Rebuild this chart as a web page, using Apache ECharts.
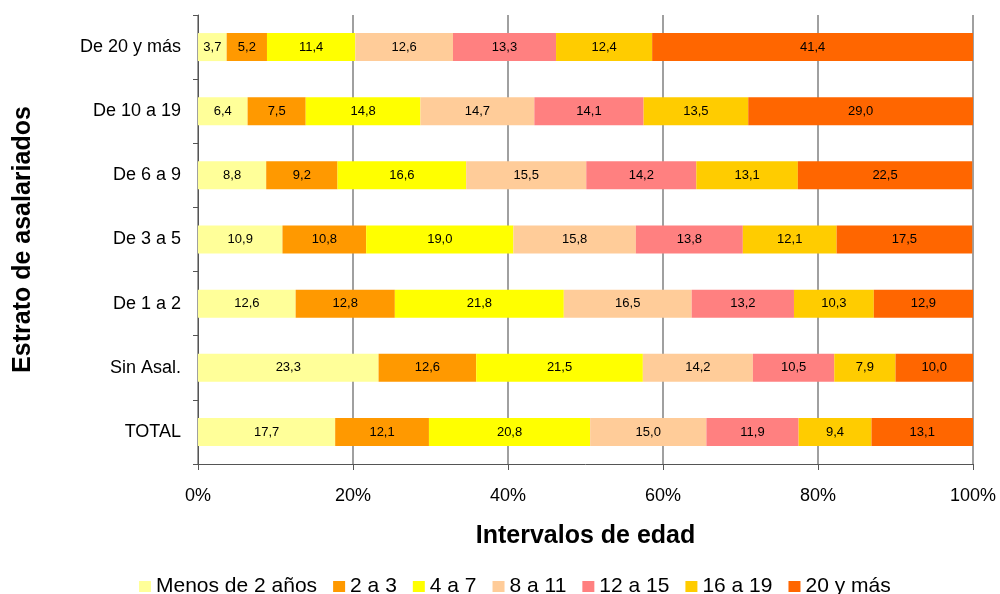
<!DOCTYPE html>
<html>
<head>
<meta charset="utf-8">
<script src="https://cdn.jsdelivr.net/npm/echarts@6/dist/echarts.min.js"></script>
<style>
  html, body { margin: 0; padding: 0; background: #fff; }
  #chart { width: 1000px; height: 594px; }
</style>
</head>
<body>
<div id="chart"></div>
<script>
// estratos, de arriba hacia abajo
var estratos = ["De 20 y más", "De 10 a 19", "De 6 a 9", "De 3 a 5", "De 1 a 2", "Sin Asal.", "TOTAL"];
var intervalos = ["Menos de 2 años", "2 a 3", "4 a 7", "8 a 11", "12 a 15", "16 a 19", "20 y más"];
var colores = ["#FFFF99", "#FF9900", "#FFFF00", "#FFCC99", "#FF8080", "#FFCC00", "#FF6600"];

// porcentaje por intervalo de edad (un valor por estrato)
var menos2 = [3.7, 6.4, 8.8, 10.9, 12.6, 23.3, 17.7];
var de2a3 = [5.2, 7.5, 9.2, 10.8, 12.8, 12.6, 12.1];
var de4a7 = [11.4, 14.8, 16.6, 19.0, 21.8, 21.5, 20.8];
var de8a11 = [12.6, 14.7, 15.5, 15.8, 16.5, 14.2, 15.0];
var de12a15 = [13.3, 14.1, 14.2, 13.8, 13.2, 10.5, 11.9];
var de16a19 = [12.4, 13.5, 13.1, 12.1, 10.3, 7.9, 9.4];
var de20ymas = [41.4, 29.0, 22.5, 17.5, 12.9, 10.0, 13.1];

var valores = [menos2, de2a3, de4a7, de8a11, de12a15, de16a19, de20ymas];

var fuente = "'Liberation Sans', Arial, sans-serif";

var myChart = echarts.init(document.getElementById("chart"));

var series = intervalos.map(function (nombre, i) {
  return {
    name: nombre,
    type: "bar",
    stack: "total",
    data: valores[i],
    barWidth: 28,
    itemStyle: { color: colores[i] },
    label: {
      show: true,
      position: "inside",
      color: "#000",
      fontFamily: fuente,
      fontSize: 13,
      formatter: function (p) {
        return p.value.toFixed(1).replace(".", ",");
      }
    }
  };
});

myChart.setOption({
  animation: false,
  color: colores,
  grid: { left: 198, right: 27, top: 15, bottom: 130, outerBoundsMode: "none", containLabel: false },
  legend: {
    left: 139,
    top: 576,
    padding: 0,
    icon: "rect",
    itemWidth: 12,
    itemHeight: 11,
    itemGap: 16,
    textStyle: { fontFamily: fuente, fontSize: 21, color: "#000" },
    data: intervalos
  },
  xAxis: {
    type: "value",
    min: 0,
    max: 100,
    interval: 20,
    name: "Intervalos de edad",
    nameLocation: "middle",
    nameGap: 60,
    nameTextStyle: { fontFamily: fuente, fontSize: 25, fontWeight: "bold", color: "#000" },
    axisLine: { show: true, lineStyle: { color: "#555", width: 1 } },
    axisTick: { show: true, length: 6, lineStyle: { color: "#555" } },
    axisLabel: {
      margin: 23,
      fontFamily: fuente,
      fontSize: 18,
      color: "#000",
      formatter: "{value}%"
    },
    splitLine: { show: true, lineStyle: { color: "#808080", width: 1.5 } }
  },
  yAxis: {
    type: "category",
    inverse: true,
    data: estratos,
    name: "Estrato de asalariados",
    nameLocation: "middle",
    nameGap: 162,
    nameTextStyle: { fontFamily: fuente, fontSize: 25, fontWeight: "bold", color: "#000" },
    axisLine: { show: true, lineStyle: { color: "#555", width: 1 } },
    axisTick: { show: true, length: 5, lineStyle: { color: "#555" } },
    axisLabel: { margin: 17, fontFamily: fuente, fontSize: 18, color: "#000" }
  },
  series: series
});
</script>
</body>
</html>
